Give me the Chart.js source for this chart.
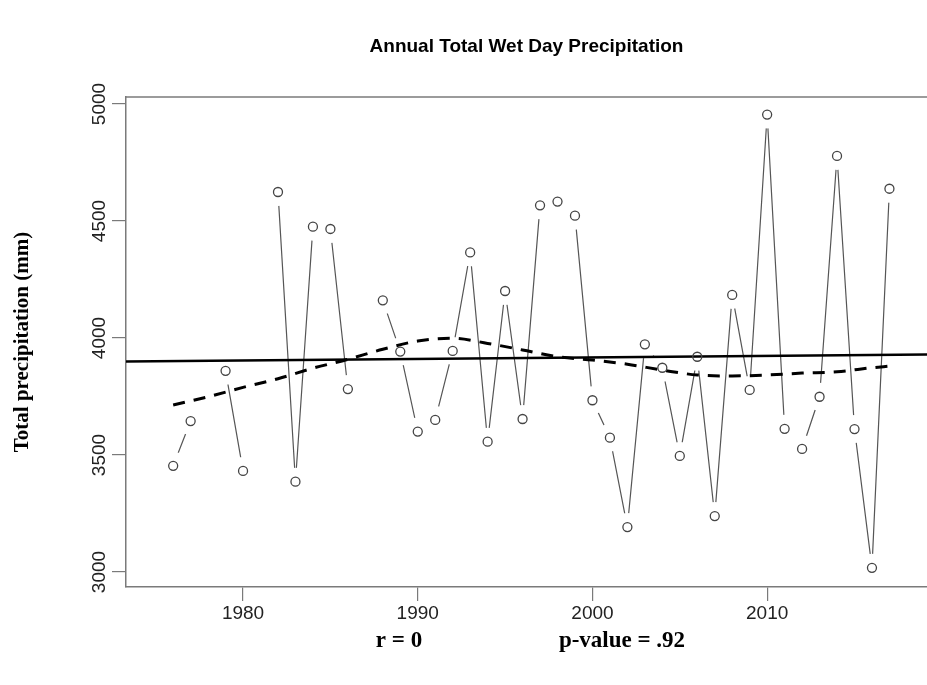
<!DOCTYPE html>
<html>
<head>
<meta charset="utf-8">
<script src="https://cdn.jsdelivr.net/npm/chart.js@4.4.1/dist/chart.umd.min.js"></script>
<style>
  html, body { margin: 0; padding: 0; background: #fff; }
  #wrap { width: 927px; height: 685px; position: relative; }
</style>
</head>
<body>
<div id="wrap"><canvas id="chart"></canvas></div>
<script>
// Annual totals (null = missing year)
const years = [1976, 1977, 1978, 1979, 1980, 1981, 1982, 1983, 1984, 1985, 1986, 1987, 1988, 1989,
    1990, 1991, 1992, 1993, 1994, 1995, 1996, 1997, 1998, 1999, 2000, 2001, 2002, 2003,
    2004, 2005, 2006, 2007, 2008, 2009, 2010, 2011, 2012, 2013, 2014, 2015, 2016, 2017];
const precip = [3454, 3645, null, 3860, 3432, null, 4624, 3386, 4476, 4466, 3782, null, 4161, 3942,
    3600, 3650, 3945, 4366, 3557, 4201, 3654, 4567, 4583, 4523, 3734, 3574, 3192, 3973,
    3873, 3496, 3920, 3239, 4184, 3778, 4955, 3612, 3526, 3749, 4778, 3611, 3018, 4638];

// smoothed (loess) curve
const loessYears = [1976, 1978, 1980, 1982, 1984, 1986, 1988, 1990, 1992, 1994, 1996, 1998,
    2000, 2002, 2004, 2006, 2008, 2010, 2012, 2014, 2016, 2017];
const loessVals = [3714, 3749, 3789, 3826, 3871, 3909, 3952, 3987, 3999, 3977, 3949, 3920,
    3906, 3888, 3863, 3842, 3838, 3842, 3850, 3856, 3873, 3880];

// linear trend, end points at the plot edges
const trendYears = [1973.3, 2019.15];
const trendVals = [3900, 3930];

const xTicks = [1980, 1990, 2000, 2010];
const yTicks = [3000, 3500, 4000, 4500, 5000];

const titleText = 'Annual Total Wet Day Precipitation';
const yTitle = 'Total precipitation (mm)';
const statsText = ['r = 0', 'p-value = .92'];

function pairs(xs, ys) {
    return xs.map((x, i) => ({ x: x, y: ys[i] }));
}

const axisGray = '#7a7a7a';

// draws the frame top, rotated y labels and the free text
const extras = {
    id: 'extras',
    beforeDatasetsDraw(chart) {
        const ctx = chart.ctx;
        const a = chart.chartArea;
        ctx.save();
        ctx.strokeStyle = axisGray;
        ctx.lineWidth = 1.5;
        ctx.beginPath();
        ctx.moveTo(a.left, a.top);
        ctx.lineTo(a.right, a.top);
        ctx.stroke();
        ctx.restore();
    },
    afterDraw(chart) {
        const ctx = chart.ctx;
        const a = chart.chartArea;
        const ys = chart.scales.y;
        ctx.save();
        ctx.fillStyle = '#000';

        ctx.font = 'bold 19px "Liberation Sans", Arial, sans-serif';
        ctx.textAlign = 'center';
        ctx.textBaseline = 'middle';
        ctx.fillText(titleText, (a.left + a.right) / 2, 47);

        // y tick labels, reading upwards
        ctx.font = '19px "Liberation Sans", Arial, sans-serif';
        ctx.fillStyle = '#222';
        ys.ticks.forEach(t => {
            const py = ys.getPixelForValue(t.value);
            ctx.save();
            ctx.translate(100, py);
            ctx.rotate(-Math.PI / 2);
            ctx.fillText(String(t.value), 0, 0);
            ctx.restore();
        });

        ctx.fillStyle = '#000';
        ctx.font = 'bold 21px "Liberation Serif", "Times New Roman", serif';
        ctx.save();
        ctx.translate(23, (a.top + a.bottom) / 2);
        ctx.rotate(-Math.PI / 2);
        ctx.fillText(yTitle, 0, 0);
        ctx.restore();

        ctx.font = 'bold 23px "Liberation Serif", "Times New Roman", serif';
        ctx.fillText(statsText[0], 399, 641);
        ctx.fillText(statsText[1], 622, 641);
        ctx.restore();
    }
};

new Chart(document.getElementById('chart'), {
    type: 'line',
    data: {
        datasets: [
            {
                // open circles
                data: pairs(years, precip),
                showLine: false,
                pointRadius: 4.5,
                pointBorderWidth: 1.3,
                pointBorderColor: '#444',
                pointBackgroundColor: 'rgba(0,0,0,0)'
            },
            {
                data: pairs(trendYears, trendVals),
                borderColor: '#000',
                borderWidth: 2.5,
                pointRadius: 0
            },
            {
                data: pairs(loessYears, loessVals),
                borderColor: '#000',
                borderWidth: 3,
                borderDash: [12, 9],
                cubicInterpolationMode: 'monotone',
                pointRadius: 0
            },
            {
                // white discs leave the gap round each point, like type = "b"
                data: pairs(years, precip),
                showLine: false,
                pointRadius: 14,
                pointBorderWidth: 0,
                pointBackgroundColor: '#fff'
            },
            {
                data: pairs(years, precip),
                borderColor: '#555',
                borderWidth: 1.2,
                spanGaps: false,
                pointRadius: 0
            }
        ]
    },
    options: {
        responsive: true,
        maintainAspectRatio: false,
        animation: false,
        events: [],
        layout: { autoPadding: false, padding: { top: 97, right: 0, left: 0, bottom: 0 } },
        plugins: {
            legend: { display: false },
            title: { display: false },
            tooltip: { enabled: false }
        },
        scales: {
            x: {
                type: 'linear',
                min: 1973.3,
                max: 2019.15,
                afterBuildTicks: s => { s.ticks = xTicks.map(v => ({ value: v })); },
                afterFit: s => { s.height = 98; },
                grid: { drawOnChartArea: false, drawTicks: true, tickLength: 14, color: axisGray, lineWidth: 1.2 },
                border: { color: axisGray, width: 1.5 },
                ticks: {
                    color: '#222',
                    padding: 1,
                    maxRotation: 0,
                    font: { family: '"Liberation Sans", Arial, sans-serif', size: 19 },
                    callback: v => String(v)
                }
            },
            y: {
                type: 'linear',
                min: 2936,
                max: 5030,
                afterBuildTicks: s => { s.ticks = yTicks.map(v => ({ value: v })); },
                afterFit: s => { s.width = 126; },
                grid: { drawOnChartArea: false, drawTicks: true, tickLength: 14, color: axisGray, lineWidth: 1.2 },
                border: { color: axisGray, width: 1.5 },
                ticks: { display: false }
            }
        }
    },
    plugins: [extras]
});
</script>
</body>
</html>
